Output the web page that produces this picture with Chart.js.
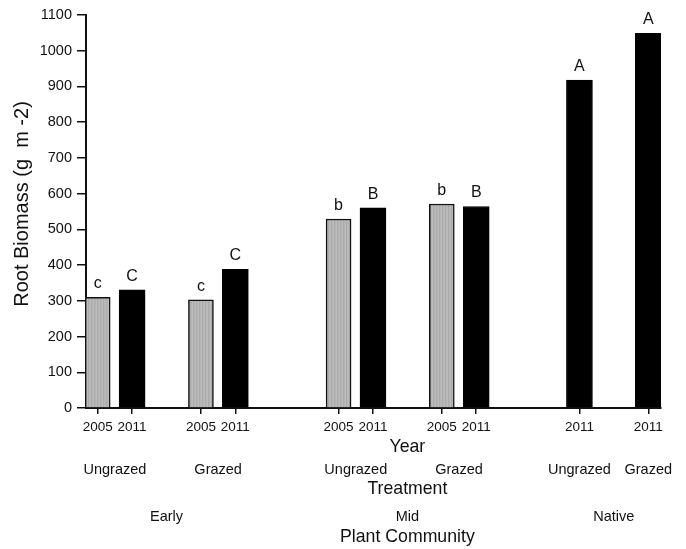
<!DOCTYPE html>
<html>
<head>
<meta charset="utf-8">
<title>Root Biomass</title>
<script src="https://cdn.jsdelivr.net/npm/chart.js@4.4.1/dist/chart.umd.min.js"></script>
<style>
  html, body { margin: 0; padding: 0; background: #fff; }
  #wrap { width: 686px; height: 549px; position: relative; }
</style>
</head>
<body>
<div id="wrap"><canvas id="chart"></canvas></div>
<script>
// Bar slots along the x axis (one unit per bar slot, gaps between groups)
const slots2005 = [0, 3, 7, 10];
const slots2011 = [1, 4, 8, 11, 14, 16];

// Root biomass (g m-2)
const biomass2005 = [310, 303, 529, 571];
const biomass2011 = [331, 388, 560, 564, 918, 1049];

// Significance letters above bars
const letters2005 = ['c', 'c', 'b', 'b'];
const letters2011 = ['C', 'C', 'B', 'B', 'A', 'A'];

// Year tick labels, in slot order
const tickSlots = [0, 1, 3, 4, 7, 8, 10, 11, 14, 16];
const yearLabels = ['2005', '2011', '2005', '2011', '2005', '2011', '2005', '2011', '2011', '2011'];

// Treatment row
const treatmentSlots = [0.5, 3.5, 7.5, 10.5, 14, 16];
const treatmentLabels = ['Ungrazed', 'Grazed', 'Ungrazed', 'Grazed', 'Ungrazed', 'Grazed'];

// Plant community row
const communitySlots = [2, 9, 15];
const communityLabels = ['Early', 'Mid', 'Native'];

const FONT = '"Liberation Sans", Arial, Helvetica, sans-serif';

// fine vertical stripes for the grey bars
function stripePattern() {
  const c = document.createElement('canvas');
  c.width = 3; c.height = 4;
  const g = c.getContext('2d');
  const cols = ['#bcbcbc', '#ababab', '#b4b4b4'];
  cols.forEach((col, i) => { g.fillStyle = col; g.fillRect(i, 0, 1, 4); });
  return g.createPattern(c, 'repeat');
}

function points(xs, ys) { return xs.map((x, i) => ({ x: x, y: ys[i] })); }

const letterPlugin = {
  id: 'letters',
  afterDatasetsDraw(chart) {
    const ctx = chart.ctx;
    const xs = chart.scales.x, ys = chart.scales.y;
    ctx.save();
    ctx.fillStyle = '#111';
    ctx.font = '16px ' + FONT;
    ctx.textAlign = 'center';
    ctx.textBaseline = 'alphabetic';
    const put = (slots, vals, letters) => {
      slots.forEach((s, i) => {
        ctx.fillText(letters[i], xs.getPixelForValue(s), ys.getPixelForValue(vals[i]) - 9);
      });
    };
    put(slots2005, biomass2005, letters2005);
    put(slots2011, biomass2011, letters2011);
    ctx.restore();
  }
};

const labelsPlugin = {
  id: 'axisRows',
  afterDraw(chart) {
    const ctx = chart.ctx;
    const xs = chart.scales.x;
    const bottom = chart.chartArea.bottom;
    ctx.save();
    ctx.fillStyle = '#111';
    ctx.textAlign = 'center';
    ctx.textBaseline = 'middle';
    const mid = xs.getPixelForValue(9);

    ctx.font = '17.7px ' + FONT;
    ctx.fillText('Year', mid, bottom + 39);

    ctx.font = '14.5px ' + FONT;
    treatmentSlots.forEach((s, i) => ctx.fillText(treatmentLabels[i], xs.getPixelForValue(s), bottom + 62));

    ctx.font = '17.7px ' + FONT;
    ctx.fillText('Treatment', mid, bottom + 81);

    ctx.font = '14.5px ' + FONT;
    communitySlots.forEach((s, i) => ctx.fillText(communityLabels[i], xs.getPixelForValue(s), bottom + 109));

    ctx.font = '17.7px ' + FONT;
    ctx.fillText('Plant Community', mid, bottom + 129);

    // y axis title
    ctx.translate(22, 204);
    ctx.rotate(-Math.PI / 2);
    ctx.font = '20px ' + FONT;
    ctx.fillText('Root Biomass (g  m -2)', 0, 0);
    ctx.restore();
  }
};

new Chart(document.getElementById('chart'), {
  type: 'bar',
  data: {
    datasets: [
      {
        label: '2005',
        data: points(slots2005, biomass2005),
        backgroundColor: stripePattern(),
        borderColor: '#111',
        borderWidth: 1.5,
        barThickness: 25,
        grouped: false
      },
      {
        label: '2011',
        data: points(slots2011, biomass2011),
        backgroundColor: '#000',
        borderColor: '#000',
        borderWidth: 1,
        barThickness: 26,
        grouped: false
      }
    ]
  },
  options: {
    responsive: true,
    maintainAspectRatio: false,
    animation: false,
    devicePixelRatio: 1,
    layout: { padding: { top: 15, right: 25, left: 0, bottom: 0 } },
    plugins: { legend: { display: false }, tooltip: { enabled: false } },
    scales: {
      x: {
        type: 'linear',
        offset: false,
        min: -0.34,
        max: 16.37,
        afterBuildTicks: (scale) => { scale.ticks = tickSlots.map(v => ({ value: v })); },
        afterFit: (scale) => { scale.height = 141; },
        ticks: {
          autoSkip: false,
          maxRotation: 0,
          padding: 5,
          color: '#111',
          font: { family: FONT, size: 13.5 },
          callback: (value, index) => yearLabels[index]
        },
        grid: { display: true, offset: false, drawOnChartArea: false, drawTicks: true, tickLength: 6, color: '#111', lineWidth: 1.5 },
        border: { display: true, color: '#111', width: 2 }
      },
      y: {
        min: 0,
        max: 1100,
        afterFit: (scale) => { scale.width = 86; },
        ticks: {
          stepSize: 100,
          padding: 5,
          color: '#111',
          font: { family: FONT, size: 14.5 },
          callback: (value) => String(value)
        },
        grid: { display: true, drawOnChartArea: false, drawTicks: true, tickLength: 9, color: '#111', lineWidth: 1.5 },
        border: { display: true, color: '#111', width: 2 }
      }
    }
  },
  plugins: [letterPlugin, labelsPlugin]
});
</script>
</body>
</html>
